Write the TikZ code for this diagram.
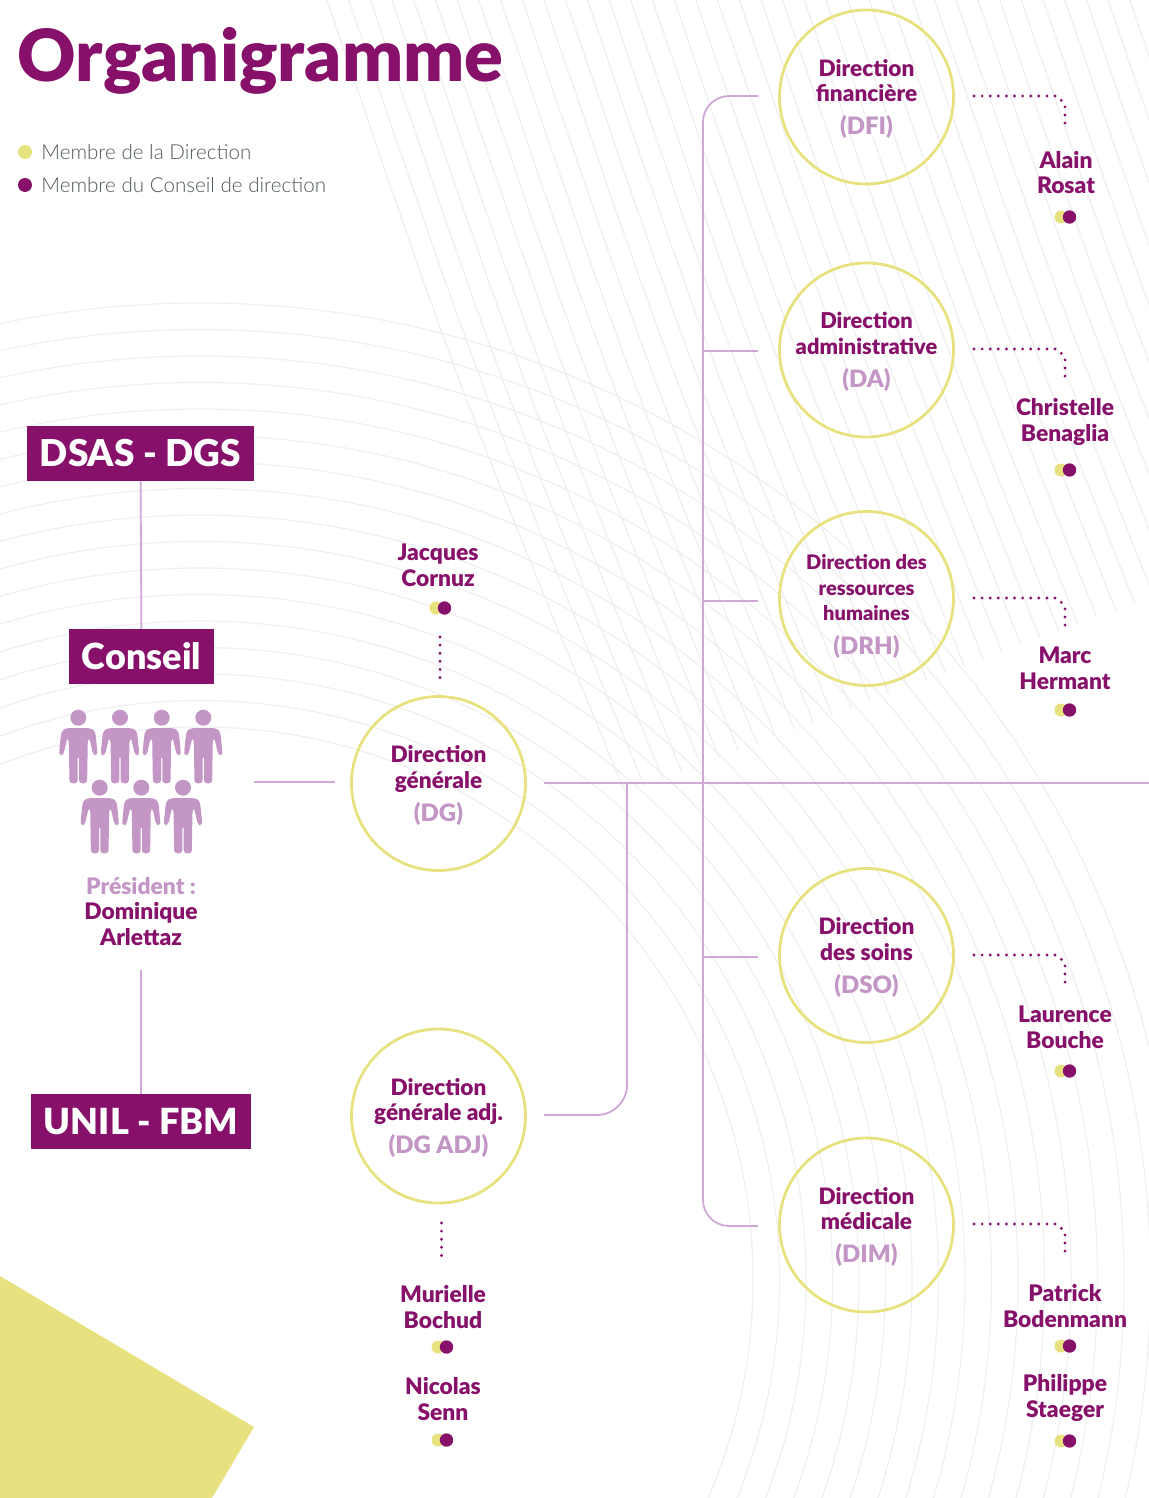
\documentclass[tikz,border=0pt]{standalone}
\usepackage{fontspec}
\setmainfont{Lato}
\newfontfamily\blackfont{Lato Black}
\newfontfamily\lightfont{Lato Light}
\definecolor{plum}{HTML}{87116A}
\definecolor{lilac}{HTML}{C396C6}
\definecolor{wire}{HTML}{CFA8D8}
\definecolor{lime}{HTML}{E7E27F}
\definecolor{faint}{HTML}{EFEFEF}
\definecolor{slate}{HTML}{4F585B}
\tikzset{
    personfig/.pic={
        \fill[lilac] (0,0) circle [radius=8];
        \fill[lilac, rounded corners=1.5] (-13,10.5) -- (13,10.5) -- (17,14) -- (19.2,35) -- (18,37.4) -- (15,37.4) -- (11,20) -- (9.5,22)
            -- (8.8,65.6) -- (0.7,65.6) -- (0.7,38) -- (-0.7,38) -- (-0.7,65.6) -- (-8.8,65.6) -- (-9.5,22) -- (-11,20) -- (-15,37.4) -- (-18,37.4) -- (-19.2,35) -- (-17,14) -- cycle;
    }
}
\begin{document}
\begin{tikzpicture}[x=.5pt, y=-.5pt]
    \tikzstyle{bgline}=[faint, line width=.6pt]
    \tikzstyle{wireline}=[wire, line width=.9pt]
    \tikzstyle{dotline}=[plum, line width=1.6pt, line cap=round, dash pattern=on 0pt off 4.05pt]
    \tikzstyle{dirnode}=[circle, draw=lime, line width=1.4pt, minimum size=87pt, inner sep=0pt, align=center, text=plum, text depth=0pt, font=\blackfont\fontsize{11.3}{12.6}\selectfont]
    \tikzstyle{boxnode}=[fill=plum, text=white, inner sep=0pt, font=\blackfont\fontsize{18}{20}\selectfont]
    \tikzstyle{namenode}=[align=center, text=plum, inner sep=0pt, font=\blackfont\fontsize{11.4}{12.9}\selectfont]
    \tikzstyle{legendnode}=[anchor=west, text=slate, inner sep=0pt, font=\lightfont\fontsize{10.3}{13}\selectfont]
    \newcommand{\abbr}[1]{\\[4pt]\textcolor{lilac}{\fontsize{12}{12.6}\selectfont #1}}

    \useasboundingbox (0,0) rectangle (1149,1498);

    \begin{scope}
        \clip (0,0) rectangle (1149,1498);
        \foreach \r in {553,579.5,...,977}
            \draw[bgline] (200,1280) circle [radius=\r];
        \foreach \k in {0,...,39} {
            \pgfmathsetmacro{\xtop}{327+21.7*\k}
            \pgfmathsetmacro{\yend}{(792-.367*(\xtop-622))/1.1358}
            \pgfmathsetmacro{\xmid}{\xtop+.34*\yend/2}
            \pgfmathsetmacro{\xend}{\xtop+.34*\yend+.00004*\yend*\yend}
            \draw[bgline] (\xtop,0) .. controls (\xmid,\yend/2) .. (\xend,\yend);
        }
        \fill[lime] (0,1276) -- (254,1427) -- (212,1498) -- (0,1498) -- cycle;
    \end{scope}

    % title and legend
    \node (title) [anchor=west, text=plum, inner sep=0pt, font=\blackfont\fontsize{36}{40}\selectfont] at (17,61) {Organigramme};
    \fill[lime] (25,152) circle [radius=7];
    \fill[plum] (25,185) circle [radius=7];
    \node (legend1) [legendnode] at (41,152) {Membre de la Direction};
    \node (legend2) [legendnode] at (41,185) {Membre du Conseil de direction};

    % left column
    \node (dsas) [boxnode, font=\blackfont\fontsize{18.5}{20}\selectfont, minimum width=113.5pt, minimum height=27.5pt] at (140.5,453.5) {DSAS - DGS};
    \node (conseil) [boxnode, minimum width=72.5pt, minimum height=27.5pt] at (141.5,656.5) {Conseil};
    \node (unil) [boxnode, minimum width=110pt, minimum height=27.5pt] at (141,1121.5) {UNIL - FBM};
    \foreach \xh in {78.3,120,161.7,203.3}
        \pic at (\xh,717.7) {personfig};
    \foreach \xh in {99.7,141.3,183}
        \pic at (\xh,787.7) {personfig};
    \node (president) [namenode] at (141,911.5) {\textcolor{lilac}{Président :}\\Dominique\\Arlettaz};

    % circles
    \node (dg) [dirnode] at (438.5,783.5) {Direction\\générale\abbr{(DG)}};
    \node (dgadj) [dirnode] at (438.5,1116) {Direction\\générale adj.\abbr{(DG ADJ)}};
    \node (dfi) [dirnode] at (866.5,97) {Direction\\financière\abbr{(DFI)}};
    \node (da) [dirnode, font=\blackfont\fontsize{10.9}{12.6}\selectfont] at (866.5,350) {Direction\\administrative\abbr{(DA)}};
    \node (drh) [dirnode, font=\blackfont\fontsize{10}{12.9}\selectfont] at (866.5,598.5) {\rule{0pt}{13.5pt}Direction des\\ressources\\humaines\abbr{(DRH)}};
    \node (dso) [dirnode] at (866.5,955.5) {Direction\\des soins\abbr{(DSO)}};
    \node (dim) [dirnode] at (866.5,1225) {Direction\\médicale\abbr{(DIM)}};

    % people
    \node (cornuz) [namenode] at (438,565.5) {Jacques\\Cornuz};
    \node (bochud) [namenode] at (443,1307) {Murielle\\Bochud};
    \node (senn) [namenode] at (443,1399) {Nicolas\\Senn};
    \node (rosat) [namenode] at (1066,172.5) {Alain\\Rosat};
    \node (benaglia) [namenode] at (1065,422) {Christelle\\Benaglia};
    \node (hermant) [namenode] at (1065,668) {Marc\\Hermant};
    \node (bouche) [namenode] at (1065,1027) {Laurence\\Bouche};
    \node (bodenmann) [namenode] at (1065,1306) {Patrick\\Bodenmann};
    \node (staeger) [namenode] at (1065,1398) {Philippe\\Staeger};

    % member marks
    \foreach \xm/\ym in {436/608,438/1347,438/1440,1061/217,1061/470,1061/710,1061/1071,1061/1346,1061/1441} {
        \fill[lime] (\xm,\ym) circle [radius=6.5];
        \fill[plum] (\xm+8.5,\ym) circle [radius=6.7];
    }

    % connectors
    \coordinate (conseilright) at (254,782);
    \coordinate (conseilbottom) at (141,970);
    \coordinate (dgin) at (335,782);
    \coordinate (dgout) at (544,783);
    \coordinate (rightend) at (1149,783);
    \coordinate (dgadjout) at (544,1115);
    \coordinate (joint) at (627,783);
    \coordinate (dfiin) at (758,96);
    \coordinate (dimin) at (758,1226);
    \coordinate (dain) at (758,351);
    \coordinate (drhin) at (758,601);
    \coordinate (dsoin) at (758,957);
    \draw[wireline] (dsas) -- (conseil);
    \draw[wireline] (conseilbottom) -- (unil);
    \draw[wireline] (conseilright) -- (dgin);
    \draw[wireline] (dgout) -- (rightend);
    \draw[wireline, rounded corners=15pt] (dgadjout) -| (joint);
    \draw[wireline, rounded corners=13pt] (dfiin) -- (703,96) -- (703,1226) -- (dimin);
    \draw[wireline] (703,351) -- (dain);
    \draw[wireline] (703,601) -- (drhin);
    \draw[wireline] (703,957) -- (dsoin);

    % dotted links
    \coordinate (cornuzlow) at (440,637);
    \coordinate (dgtop) at (440,678);
    \coordinate (dgadjlow) at (441.5,1223);
    \coordinate (bochudtop) at (441.5,1263);
    \draw[dotline] (cornuzlow) -- (dgtop);
    \draw[dotline] (dgadjlow) -- (bochudtop);
    \foreach \yd in {96,349,598,955,1224}
        \draw[dotline] (974,\yd) -- (1057,\yd) -- (1065,\yd+8) -- (1065,\yd+31);
\end{tikzpicture}
\end{document}
